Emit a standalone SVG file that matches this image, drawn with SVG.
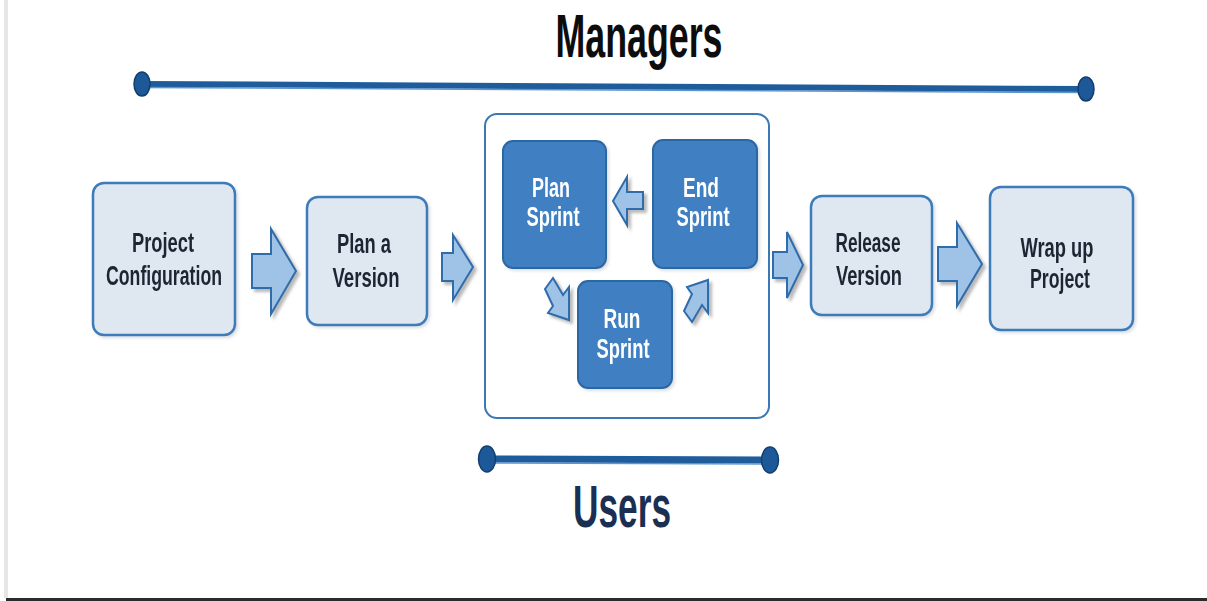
<svg xmlns="http://www.w3.org/2000/svg" width="1207" height="601" viewBox="0 0 1207 601">
  <defs>
    <style>
      .lbl { font-family: "Liberation Sans", Arial, sans-serif; font-weight: bold; font-size: 27px; text-anchor: middle; }
      .dark { fill: #1c2633; }
      .light { fill: #ffffff; }
      .stage { fill: #dfe7f1; stroke: #3d7bba; stroke-width: 2.5; }
      .sprint { fill: #3f80c2; stroke: #2b67a3; stroke-width: 2; }
      .frame { fill: #ffffff; stroke: #3a78b6; stroke-width: 2; }
      .arrow { fill: #9ec3e7; stroke: #2f6cab; stroke-width: 2; stroke-linejoin: miter; }
      .bar { stroke: #1f5c9c; stroke-linecap: butt; }
      .bar-hi { stroke: #5d95cf; stroke-width: 1.5; }
      .cap { fill: #1d5898; stroke: #123f70; stroke-width: 1.5; }
      .title { font-family: "Liberation Sans", Arial, sans-serif; font-weight: bold; text-anchor: middle; }
    </style>
    <filter id="shadow" x="-30%" y="-30%" width="160%" height="160%">
      <feGaussianBlur in="SourceAlpha" stdDeviation="1.5"/>
      <feOffset dx="3" dy="3" result="b"/>
      <feFlood flood-color="#808080" flood-opacity="0.55"/>
      <feComposite in2="b" operator="in"/>
      <feMerge><feMergeNode/><feMergeNode in="SourceGraphic"/></feMerge>
    </filter>
    <filter id="soft" x="-10%" y="-10%" width="120%" height="120%">
      <feGaussianBlur in="SourceAlpha" stdDeviation="1.5"/>
      <feOffset dx="1.5" dy="2" result="b"/>
      <feFlood flood-color="#9aa4b0" flood-opacity="0.35"/>
      <feComposite in2="b" operator="in"/>
      <feMerge><feMergeNode/><feMergeNode in="SourceGraphic"/></feMerge>
    </filter>
  </defs>

  <!-- page -->
  <rect x="0" y="0" width="1207" height="601" fill="#ffffff"/>
  <rect x="4" y="0" width="4" height="598" fill="#e6e6e6"/>
  <rect x="6" y="598" width="1201" height="3" fill="#2b2b2b"/>

  <!-- role bars -->
  <g id="managers">
    <text class="title" x="639" y="57" font-size="61" fill="#0d0d0d" textLength="167" lengthAdjust="spacingAndGlyphs">Managers</text>
    <line class="bar" x1="142" y1="84" x2="1086" y2="89" stroke-width="6"/>
    <line class="bar-hi" x1="142" y1="87.5" x2="1086" y2="92.5"/>
    <ellipse class="cap" cx="142" cy="84" rx="8" ry="12"/>
    <ellipse class="cap" cx="1086" cy="89" rx="8" ry="12"/>
  </g>

  <g id="users">
    <line class="bar" x1="487" y1="459" x2="770" y2="460" stroke-width="7"/>
    <line class="bar-hi" x1="487" y1="463" x2="770" y2="464"/>
    <ellipse class="cap" cx="487" cy="459" rx="8.5" ry="13"/>
    <ellipse class="cap" cx="770" cy="460" rx="8.5" ry="13"/>
    <text class="title" x="622" y="527" font-size="59" fill="#1b2f52" textLength="98" lengthAdjust="spacingAndGlyphs">Users</text>
  </g>

  <!-- stages -->
  <g id="project-configuration" filter="url(#soft)">
    <rect class="stage" x="93" y="183" width="142" height="152" rx="11"/>
    <text class="lbl dark" x="163" y="252" textLength="62" lengthAdjust="spacingAndGlyphs">Project</text>
    <text class="lbl dark" x="164" y="285" textLength="116" lengthAdjust="spacingAndGlyphs">Configuration</text>
  </g>

  <g id="plan-version" filter="url(#soft)">
    <rect class="stage" x="307" y="197" width="120" height="128" rx="11"/>
    <text class="lbl dark" x="364" y="253" textLength="54" lengthAdjust="spacingAndGlyphs">Plan a</text>
    <text class="lbl dark" x="366" y="287" textLength="67" lengthAdjust="spacingAndGlyphs">Version</text>
  </g>

  <g id="sprint-cycle">
    <rect class="frame" x="485" y="114" width="284" height="304" rx="12"/>
  </g>

  <g id="plan-sprint" filter="url(#soft)">
    <rect class="sprint" x="503" y="141" width="103" height="127" rx="10"/>
    <text class="lbl light" x="551" y="197" textLength="38" lengthAdjust="spacingAndGlyphs">Plan</text>
    <text class="lbl light" x="553" y="226" textLength="53" lengthAdjust="spacingAndGlyphs">Sprint</text>
  </g>

  <g id="end-sprint" filter="url(#soft)">
    <rect class="sprint" x="653" y="140" width="104" height="128" rx="10"/>
    <text class="lbl light" x="701" y="197" textLength="36" lengthAdjust="spacingAndGlyphs">End</text>
    <text class="lbl light" x="703" y="226" textLength="53" lengthAdjust="spacingAndGlyphs">Sprint</text>
  </g>

  <g id="run-sprint" filter="url(#soft)">
    <rect class="sprint" x="578" y="281" width="94" height="107" rx="10"/>
    <text class="lbl light" x="622" y="328" textLength="37" lengthAdjust="spacingAndGlyphs">Run</text>
    <text class="lbl light" x="623" y="358" textLength="53" lengthAdjust="spacingAndGlyphs">Sprint</text>
  </g>

  <g id="release-version" filter="url(#soft)">
    <rect class="stage" x="811" y="196" width="121" height="119" rx="11"/>
    <text class="lbl dark" x="868" y="252" textLength="65" lengthAdjust="spacingAndGlyphs">Release</text>
    <text class="lbl dark" x="869" y="285" textLength="66" lengthAdjust="spacingAndGlyphs">Version</text>
  </g>

  <g id="wrap-up-project" filter="url(#soft)">
    <rect class="stage" x="990" y="187" width="143" height="143" rx="11"/>
    <text class="lbl dark" x="1057" y="257" textLength="73" lengthAdjust="spacingAndGlyphs">Wrap up</text>
    <text class="lbl dark" x="1060" y="288" textLength="60" lengthAdjust="spacingAndGlyphs">Project</text>
  </g>

  <!-- connectors: block arrows -->
  <g id="connectors" filter="url(#shadow)">
    <polygon class="arrow" points="252,254 271,254 271,229 296,271 271,314 271,288 252,288"/>
    <polygon class="arrow" points="442,253 453,253 453,235 473,267 453,300 453,281 442,281"/>
    <polygon class="arrow" points="643,192 627,192 627,177 613,201 627,225 627,209 643,209"/>
    <polygon class="arrow" points="553,278 563,295 569,287 569,320 548,313 553,306 545,289"/>
    <polygon class="arrow" points="692,322 702,305 708,313 708,280 687,287 692,294 684,311"/>
    <polygon class="arrow" points="773,252 787,252 787,232 803,265 787,298 787,278 773,278"/>
    <polygon class="arrow" points="938,247 957,247 957,223 982,264 957,306 957,281 938,281"/>
  </g>
</svg>
